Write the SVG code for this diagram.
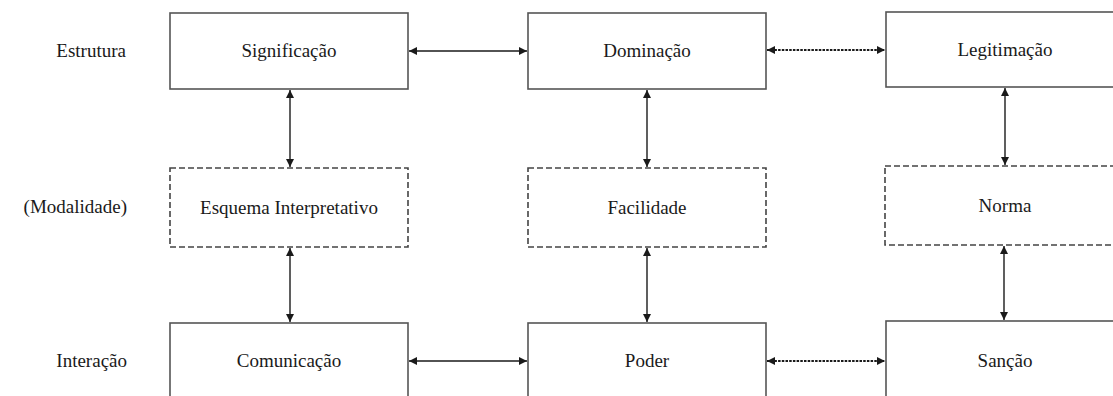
<svg xmlns="http://www.w3.org/2000/svg" width="1113" height="396" viewBox="0 0 1113 396">
<defs>
<marker id="ah" viewBox="0 0 10 10" refX="10" refY="5" markerWidth="8" markerHeight="8" markerUnits="userSpaceOnUse" orient="auto-start-reverse">
<path d="M0,0 L10,5 L0,10 z" fill="#1a1a1a"/>
</marker>
<style>
.box{fill:#fff;stroke:#555;stroke-width:1.6}
.dbox{fill:#fff;stroke:#444;stroke-width:1.6;stroke-dasharray:6 3}
.t{font-family:"Liberation Serif","Times New Roman",serif;font-size:19px;fill:#1a1a1a;text-anchor:middle}
.lbl{font-family:"Liberation Serif","Times New Roman",serif;font-size:19px;fill:#1a1a1a;text-anchor:end}
.c{stroke:#1a1a1a;stroke-width:1.4;fill:none;marker-start:url(#ah);marker-end:url(#ah)}
.cd{stroke:#1a1a1a;stroke-width:1.8;fill:none;stroke-dasharray:2.5 1.2;marker-start:url(#ah);marker-end:url(#ah)}
</style>
</defs>
<rect width="1113" height="396" fill="#fff"/>
<g id="labels">
<text class="lbl" x="126" y="57">Estrutura</text>
<text class="lbl" x="127" y="213">(Modalidade)</text>
<text class="lbl" x="127" y="367">Interação</text>
</g>
<g id="connectors">
<line class="c" x1="409" y1="51" x2="527" y2="51"/>
<line class="cd" x1="767" y1="50" x2="885" y2="50"/>
<line class="c" x1="290" y1="90" x2="290" y2="167"/>
<line class="c" x1="647" y1="90" x2="647" y2="167"/>
<line class="c" x1="1005" y1="88" x2="1005" y2="165"/>
<line class="c" x1="290" y1="248" x2="290" y2="322"/>
<line class="c" x1="647" y1="248" x2="647" y2="322"/>
<line class="c" x1="1004" y1="246" x2="1004" y2="320"/>
<line class="c" x1="409" y1="361" x2="527" y2="361"/>
<line class="cd" x1="767" y1="361" x2="885" y2="361"/>
</g>
<g id="significacao"><rect class="box" x="170" y="13" width="238" height="76"/><text class="t" x="289" y="57">Significação</text></g>
<g id="dominacao"><rect class="box" x="528" y="13" width="238" height="76"/><text class="t" x="647" y="57">Dominação</text></g>
<g id="legitimacao"><rect class="box" x="886" y="12" width="238" height="75"/><text class="t" x="1005" y="56">Legitimação</text></g>
<g id="esquema"><rect class="dbox" x="170" y="168" width="238" height="79"/><text class="t" x="289" y="214">Esquema Interpretativo</text></g>
<g id="facilidade"><rect class="dbox" x="528" y="168" width="238" height="79"/><text class="t" x="647" y="214">Facilidade</text></g>
<g id="norma"><rect class="dbox" x="885" y="166" width="240" height="79"/><text class="t" x="1005" y="212">Norma</text></g>
<g id="comunicacao"><rect class="box" x="170" y="323" width="238" height="80"/><text class="t" x="289" y="367">Comunicação</text></g>
<g id="poder"><rect class="box" x="528" y="323" width="238" height="80"/><text class="t" x="647" y="367">Poder</text></g>
<g id="sancao"><rect class="box" x="886" y="321" width="238" height="82"/><text class="t" x="1005" y="367">Sanção</text></g>
</svg>
